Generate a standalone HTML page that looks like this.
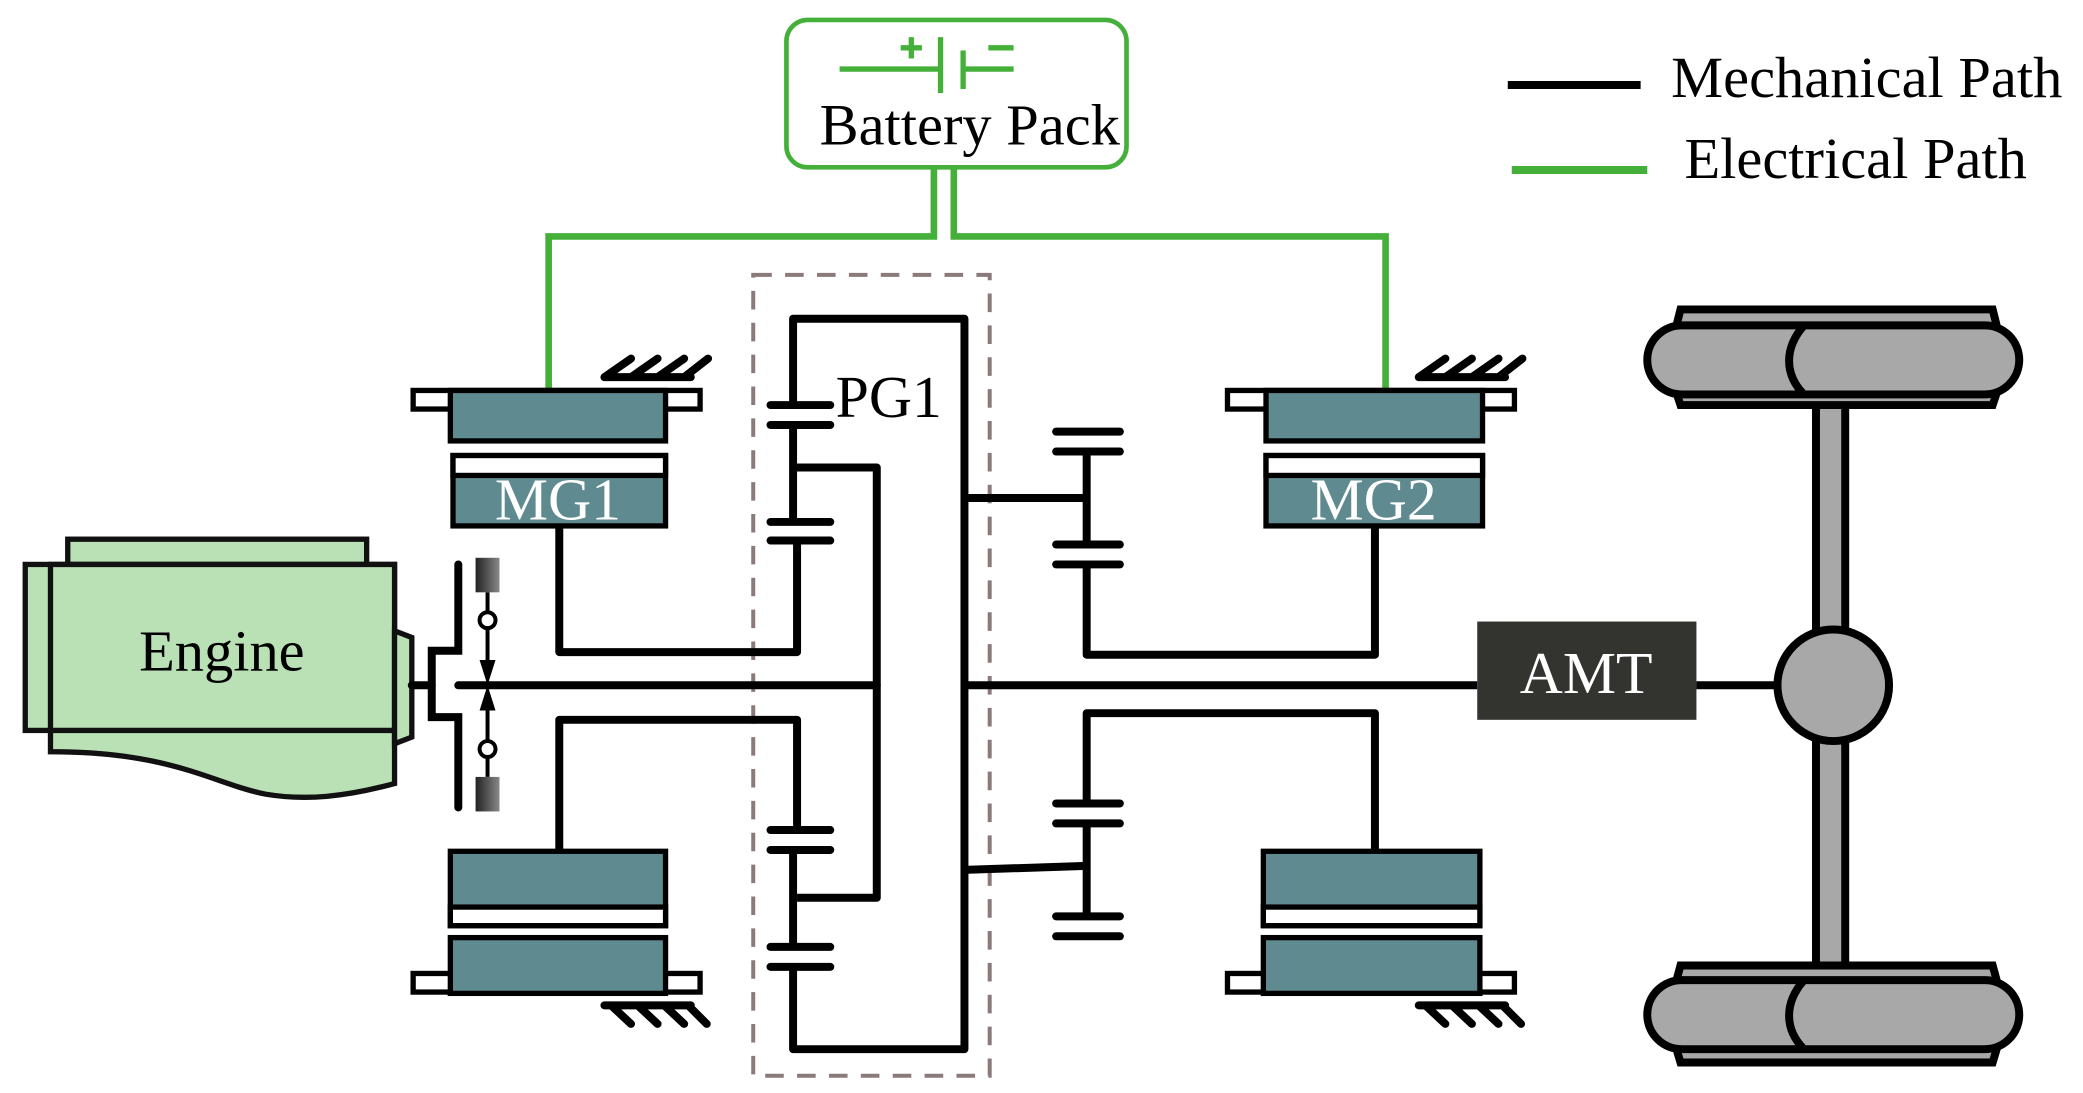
<!DOCTYPE html>
<html><head><meta charset="utf-8"><style>html,body{margin:0;padding:0;background:#fff}svg{display:block}</style></head>
<body>
<svg width="2083" height="1093" viewBox="0 0 1568 823" preserveAspectRatio="none" xmlns="http://www.w3.org/2000/svg" font-family="Liberation Serif, serif">
<defs>
<linearGradient id="act" x1="0" x2="1"><stop offset="0" stop-color="#222"/><stop offset="1" stop-color="#888"/></linearGradient>
</defs>
<!-- Battery -->
<rect x="592" y="15" width="256" height="111" rx="16" fill="#fff" stroke="#44b03a" stroke-width="3.5"/>
<g stroke="#44b03a" stroke-width="4" fill="none">
<line x1="632" y1="52" x2="708" y2="52"/><line x1="708" y1="28" x2="708" y2="70"/>
<line x1="725" y1="38" x2="725" y2="67"/><line x1="725" y1="52" x2="763" y2="52"/>
<line x1="678" y1="36" x2="694" y2="36"/><line x1="686" y1="28" x2="686" y2="44"/>
<line x1="744" y1="36" x2="763" y2="36"/>
</g>
<text x="730" y="109" font-size="44" text-anchor="middle">Battery Pack</text>
<!-- legend -->
<line x1="1135" y1="64" x2="1235" y2="64" stroke="#000" stroke-width="6"/>
<text x="1258" y="73" font-size="44">Mechanical Path</text>
<line x1="1138" y1="128" x2="1240" y2="128" stroke="#44b03a" stroke-width="6"/>
<text x="1268" y="134" font-size="44">Electrical Path</text>
<!-- green wires -->
<g stroke="#44b03a" stroke-width="5" fill="none">
<polyline points="703,126 703,178 413,178 413,294"/>
<polyline points="718,126 718,178 1043,178 1043,294"/>
</g>
<!-- dashed box -->
<rect x="567" y="207" width="178" height="603" fill="none" stroke="#8a7a7a" stroke-width="3" stroke-dasharray="14 10"/>
<!-- Engine -->
<g stroke="#111" stroke-width="4" fill="#b9e1b5">
<rect x="51" y="406" width="225" height="22"/>
<rect x="19" y="425" width="278" height="125"/>
<path d="M38,425 H297 V590 C260,600 230,603 200,598 C160,590 130,566 38,566 Z"/>
<line x1="38" y1="550" x2="297" y2="550"/>
<path d="M297,475 L310,480 L310,555 L297,560 Z"/>
</g>
<text x="167" y="505" font-size="44" text-anchor="middle">Engine</text>
<!-- clutch -->
<g stroke="#000" stroke-width="6" fill="none" stroke-linecap="round">
<line x1="310" y1="516" x2="325" y2="516"/>
<polyline points="345,425 345,490 325,490 325,540 345,540 345,608"/>
<line x1="345" y1="516" x2="660" y2="516"/>
</g>
<rect x="358" y="420" width="18" height="26" fill="url(#act)"/>
<rect x="358" y="585" width="18" height="26" fill="url(#act)"/>
<g stroke="#000" stroke-width="3" fill="#fff">
<line x1="367" y1="446" x2="367" y2="500"/><line x1="367" y1="532" x2="367" y2="585"/>
<circle cx="367" cy="467" r="6"/><circle cx="367" cy="564" r="6"/>
</g>
<path d="M361,497 L373,497 L367,516 Z M361,535 L373,535 L367,516 Z" fill="#000"/>
<!-- Motors -->
<g stroke="#000" stroke-width="4">
<rect x="311" y="294" width="216" height="14" fill="#fff"/>
<rect x="339" y="294" width="162" height="38" fill="#5f8a90"/>
<rect x="341" y="343" width="160" height="53" fill="#5f8a90"/>
<rect x="341" y="343" width="160" height="15" fill="#fff"/>
<rect x="311" y="733" width="216" height="14" fill="#fff"/>
<rect x="339" y="706" width="162" height="42" fill="#5f8a90"/>
<rect x="339" y="641" width="162" height="56" fill="#5f8a90"/>
<rect x="339" y="683" width="162" height="14" fill="#fff"/>

<rect x="924" y="294" width="216" height="14" fill="#fff"/>
<rect x="953" y="294" width="163" height="38" fill="#5f8a90"/>
<rect x="953" y="343" width="163" height="53" fill="#5f8a90"/>
<rect x="953" y="343" width="163" height="15" fill="#fff"/>
<rect x="924" y="733" width="216" height="14" fill="#fff"/>
<rect x="951" y="706" width="163" height="42" fill="#5f8a90"/>
<rect x="951" y="641" width="163" height="56" fill="#5f8a90"/>
<rect x="951" y="683" width="163" height="14" fill="#fff"/>
</g>
<text x="420" y="391" font-size="45" fill="#fff" text-anchor="middle">MG1</text>
<text x="1034" y="391" font-size="45" fill="#fff" text-anchor="middle">MG2</text>
<!-- grounds -->
<g stroke="#000" stroke-width="6" stroke-linecap="round" fill="none">
<path d="M455,284 H520 M455,284 L475,270 M475,284 L495,270 M495,284 L515,270 M515,284 L533,270"/>
<path d="M1068,284 H1133 M1068,284 L1088,270 M1088,284 L1108,270 M1108,284 L1128,270 M1128,284 L1146,270"/>
<path d="M455,757 H520 M460,757 L475,771 M480,757 L495,771 M500,757 L515,771 M518,757 L532,771"/>
<path d="M1068,757 H1133 M1073,757 L1088,771 M1093,757 L1108,771 M1113,757 L1128,771 M1131,757 L1145,771"/>
</g>
<!-- mechanical -->
<g stroke="#000" stroke-width="6" fill="none" stroke-linejoin="round">
<polyline points="421,396 421,491 600,491 600,407"/>
<polyline points="421,641 421,542 600,542 600,625"/>
<polyline points="597,305 597,240 726,240 726,790 597,790 597,728"/>
<line x1="597" y1="320" x2="597" y2="393"/>
<line x1="597" y1="640" x2="597" y2="713"/>
<polyline points="597,352 660,352 660,676 600,676"/>
<g stroke-linecap="round">
<line x1="580" y1="305" x2="625" y2="305"/><line x1="580" y1="320" x2="625" y2="320"/>
<line x1="580" y1="393" x2="625" y2="393"/><line x1="580" y1="407" x2="625" y2="407"/>
<line x1="580" y1="625" x2="625" y2="625"/><line x1="580" y1="640" x2="625" y2="640"/>
<line x1="580" y1="713" x2="625" y2="713"/><line x1="580" y1="728" x2="625" y2="728"/>
<line x1="795" y1="325" x2="843" y2="325"/><line x1="795" y1="340" x2="843" y2="340"/>
<line x1="795" y1="410" x2="843" y2="410"/><line x1="795" y1="425" x2="843" y2="425"/>
<line x1="795" y1="605" x2="843" y2="605"/><line x1="795" y1="620" x2="843" y2="620"/>
<line x1="795" y1="690" x2="843" y2="690"/><line x1="795" y1="705" x2="843" y2="705"/>
</g>
<line x1="726" y1="375" x2="818" y2="375"/>
<line x1="818" y1="340" x2="818" y2="410"/>
<polyline points="818,425 818,493 1035,493 1035,396"/>
<line x1="726" y1="655" x2="818" y2="652"/>
<line x1="818" y1="620" x2="818" y2="690"/>
<polyline points="818,605 818,537 1035,537 1035,641"/>
<line x1="726" y1="516" x2="1112" y2="516"/>
<line x1="1277" y1="516" x2="1340" y2="516"/>
</g>
<rect x="1112" y="468" width="165" height="74" fill="#333330"/>
<text x="1194" y="522" font-size="45" fill="#fff" text-anchor="middle">AMT</text>
<!-- axle & wheels -->
<g stroke="#000" stroke-width="6" fill="#a8a8a8">
<rect x="1367" y="300" width="22" height="428"/>
<circle cx="1380" cy="516" r="42"/>
<path d="M1265,233 H1500 L1503,245 V296 L1500,305 H1265 L1262,296 V245 Z"/>
<rect x="1240" y="245" width="280" height="52" rx="26"/>
<path d="M1358,245 C1343,262 1343,282 1358,297" fill="none"/>
<path d="M1265,727 H1500 L1503,738 V790 L1500,800 H1265 L1262,790 V738 Z"/>
<rect x="1240" y="738" width="280" height="52" rx="26"/>
<path d="M1358,738 C1343,755 1343,775 1358,790" fill="none"/>
</g>
<text x="669" y="314" font-size="45" text-anchor="middle">PG1</text>
</svg>
</body></html>
